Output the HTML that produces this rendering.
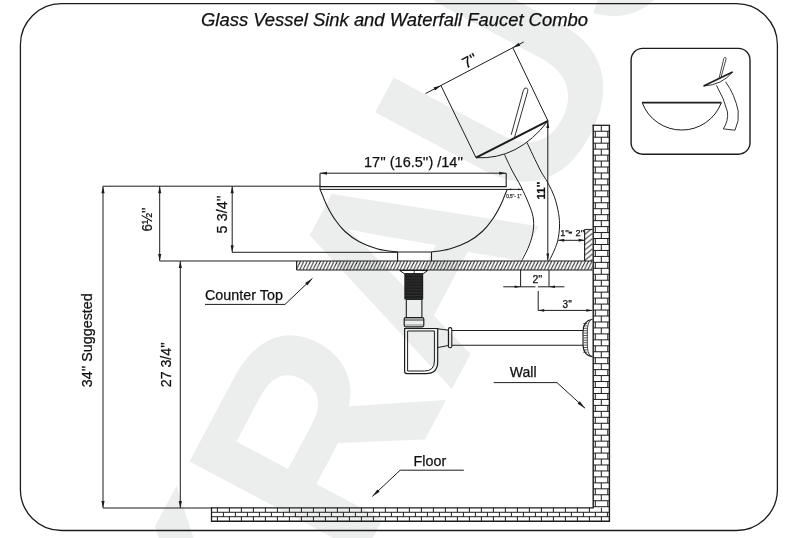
<!DOCTYPE html>
<html><head><meta charset="utf-8"><title>Glass Vessel Sink and Waterfall Faucet Combo</title>
<style>
html,body{margin:0;padding:0;background:#fff;}
body{width:800px;height:538px;overflow:hidden;}
svg{display:block;font-family:"Liberation Sans",sans-serif;will-change:transform;}
</style></head><body>
<svg width="800" height="538" viewBox="0 0 800 538">
<rect x="0" y="0" width="800" height="538" fill="#ffffff"/>
<text x="0" y="0" transform="translate(262.2 745.8) rotate(-62) scale(1 1.045)" font-size="275" font-weight="bold" fill="#eceeed" font-family="Liberation Sans, sans-serif">KRAUS</text>

<rect x="20.4" y="3.7" width="757" height="526.8" rx="41" ry="41" fill="none" stroke="#1c1c1c" stroke-width="1.3"/>
<rect x="631.1" y="48.4" width="118.9" height="105.8" rx="11.5" ry="11.5" fill="none" stroke="#1c1c1c" stroke-width="1.4"/>
<text x="201.00" y="25.50" font-size="18.4" text-anchor="start" font-weight="normal" font-style="italic" fill="#111" stroke="#111" stroke-width="0.25" textLength="387" lengthAdjust="spacingAndGlyphs">Glass Vessel Sink and Waterfall Faucet Combo</text>
<defs>
<pattern id="hatch" patternUnits="userSpaceOnUse" width="3.35" height="9.5" x="296.6" y="261">
<line x1="-0.6" y1="9.5" x2="3.95" y2="0" stroke="#1c1c1c" stroke-width="0.9"/>
<line x1="-3.95" y1="9.5" x2="0.6" y2="0" stroke="#1c1c1c" stroke-width="0.9"/>
<line x1="2.75" y1="9.5" x2="7.3" y2="0" stroke="#1c1c1c" stroke-width="0.9"/>
</pattern>
<pattern id="hatch2" patternUnits="userSpaceOnUse" width="8" height="5.2" x="584.5" y="229.4">
<line x1="0" y1="5.2" x2="8" y2="-1.3" stroke="#1c1c1c" stroke-width="0.9"/>
<line x1="0" y1="10.4" x2="8" y2="3.9" stroke="#1c1c1c" stroke-width="0.9"/>
<line x1="0" y1="0" x2="8" y2="-6.5" stroke="#1c1c1c" stroke-width="0.9"/>
</pattern>
</defs>
<rect x="296.6" y="261.0" width="296.00" height="9.0" fill="url(#hatch)" stroke="none"/>
<line x1="159.70" y1="261.00" x2="592.60" y2="261.00" stroke="#1c1c1c" stroke-width="1.1" />
<line x1="296.60" y1="270.00" x2="592.60" y2="270.00" stroke="#1c1c1c" stroke-width="1.2" />
<line x1="296.60" y1="261.00" x2="296.60" y2="270.00" stroke="#1c1c1c" stroke-width="1.1" />
<rect x="584.6" y="229.4" width="8" height="31.60" fill="url(#hatch2)" stroke="none"/>
<line x1="584.60" y1="229.40" x2="592.60" y2="229.40" stroke="#1c1c1c" stroke-width="1.0" />
<line x1="584.60" y1="229.40" x2="584.60" y2="261.00" stroke="#1c1c1c" stroke-width="1.1" />
<rect x="593.2" y="125.3" width="16.20" height="395.90" fill="none" stroke="none"/>
<line x1="593.20" y1="125.30" x2="593.20" y2="507.80" stroke="#1c1c1c" stroke-width="1.4" />
<line x1="609.40" y1="125.30" x2="609.40" y2="521.20" stroke="#1c1c1c" stroke-width="1.4" />
<line x1="592.50" y1="125.30" x2="610.10" y2="125.30" stroke="#1c1c1c" stroke-width="1.3" />
<line x1="593.20" y1="131.26" x2="609.40" y2="131.26" stroke="#1c1c1c" stroke-width="1.0" />
<line x1="601.30" y1="125.30" x2="601.30" y2="131.26" stroke="#1c1c1c" stroke-width="1.0" />
<line x1="593.20" y1="137.22" x2="609.40" y2="137.22" stroke="#1c1c1c" stroke-width="1.0" />
<line x1="595.30" y1="131.26" x2="595.30" y2="137.22" stroke="#1c1c1c" stroke-width="1.0" />
<line x1="607.80" y1="131.26" x2="607.80" y2="137.22" stroke="#1c1c1c" stroke-width="1.0" />
<line x1="593.20" y1="143.18" x2="609.40" y2="143.18" stroke="#1c1c1c" stroke-width="1.0" />
<line x1="601.30" y1="137.22" x2="601.30" y2="143.18" stroke="#1c1c1c" stroke-width="1.0" />
<line x1="593.20" y1="149.14" x2="609.40" y2="149.14" stroke="#1c1c1c" stroke-width="1.0" />
<line x1="595.30" y1="143.18" x2="595.30" y2="149.14" stroke="#1c1c1c" stroke-width="1.0" />
<line x1="607.80" y1="143.18" x2="607.80" y2="149.14" stroke="#1c1c1c" stroke-width="1.0" />
<line x1="593.20" y1="155.10" x2="609.40" y2="155.10" stroke="#1c1c1c" stroke-width="1.0" />
<line x1="601.30" y1="149.14" x2="601.30" y2="155.10" stroke="#1c1c1c" stroke-width="1.0" />
<line x1="593.20" y1="161.06" x2="609.40" y2="161.06" stroke="#1c1c1c" stroke-width="1.0" />
<line x1="595.30" y1="155.10" x2="595.30" y2="161.06" stroke="#1c1c1c" stroke-width="1.0" />
<line x1="607.80" y1="155.10" x2="607.80" y2="161.06" stroke="#1c1c1c" stroke-width="1.0" />
<line x1="593.20" y1="167.02" x2="609.40" y2="167.02" stroke="#1c1c1c" stroke-width="1.0" />
<line x1="601.30" y1="161.06" x2="601.30" y2="167.02" stroke="#1c1c1c" stroke-width="1.0" />
<line x1="593.20" y1="172.97" x2="609.40" y2="172.97" stroke="#1c1c1c" stroke-width="1.0" />
<line x1="595.30" y1="167.02" x2="595.30" y2="172.97" stroke="#1c1c1c" stroke-width="1.0" />
<line x1="607.80" y1="167.02" x2="607.80" y2="172.97" stroke="#1c1c1c" stroke-width="1.0" />
<line x1="593.20" y1="178.93" x2="609.40" y2="178.93" stroke="#1c1c1c" stroke-width="1.0" />
<line x1="601.30" y1="172.97" x2="601.30" y2="178.93" stroke="#1c1c1c" stroke-width="1.0" />
<line x1="593.20" y1="184.89" x2="609.40" y2="184.89" stroke="#1c1c1c" stroke-width="1.0" />
<line x1="595.30" y1="178.93" x2="595.30" y2="184.89" stroke="#1c1c1c" stroke-width="1.0" />
<line x1="607.80" y1="178.93" x2="607.80" y2="184.89" stroke="#1c1c1c" stroke-width="1.0" />
<line x1="593.20" y1="190.85" x2="609.40" y2="190.85" stroke="#1c1c1c" stroke-width="1.0" />
<line x1="601.30" y1="184.89" x2="601.30" y2="190.85" stroke="#1c1c1c" stroke-width="1.0" />
<line x1="593.20" y1="196.81" x2="609.40" y2="196.81" stroke="#1c1c1c" stroke-width="1.0" />
<line x1="595.30" y1="190.85" x2="595.30" y2="196.81" stroke="#1c1c1c" stroke-width="1.0" />
<line x1="607.80" y1="190.85" x2="607.80" y2="196.81" stroke="#1c1c1c" stroke-width="1.0" />
<line x1="593.20" y1="202.77" x2="609.40" y2="202.77" stroke="#1c1c1c" stroke-width="1.0" />
<line x1="601.30" y1="196.81" x2="601.30" y2="202.77" stroke="#1c1c1c" stroke-width="1.0" />
<line x1="593.20" y1="208.73" x2="609.40" y2="208.73" stroke="#1c1c1c" stroke-width="1.0" />
<line x1="595.30" y1="202.77" x2="595.30" y2="208.73" stroke="#1c1c1c" stroke-width="1.0" />
<line x1="607.80" y1="202.77" x2="607.80" y2="208.73" stroke="#1c1c1c" stroke-width="1.0" />
<line x1="593.20" y1="214.69" x2="609.40" y2="214.69" stroke="#1c1c1c" stroke-width="1.0" />
<line x1="601.30" y1="208.73" x2="601.30" y2="214.69" stroke="#1c1c1c" stroke-width="1.0" />
<line x1="593.20" y1="220.65" x2="609.40" y2="220.65" stroke="#1c1c1c" stroke-width="1.0" />
<line x1="595.30" y1="214.69" x2="595.30" y2="220.65" stroke="#1c1c1c" stroke-width="1.0" />
<line x1="607.80" y1="214.69" x2="607.80" y2="220.65" stroke="#1c1c1c" stroke-width="1.0" />
<line x1="593.20" y1="226.61" x2="609.40" y2="226.61" stroke="#1c1c1c" stroke-width="1.0" />
<line x1="601.30" y1="220.65" x2="601.30" y2="226.61" stroke="#1c1c1c" stroke-width="1.0" />
<line x1="593.20" y1="232.57" x2="609.40" y2="232.57" stroke="#1c1c1c" stroke-width="1.0" />
<line x1="595.30" y1="226.61" x2="595.30" y2="232.57" stroke="#1c1c1c" stroke-width="1.0" />
<line x1="607.80" y1="226.61" x2="607.80" y2="232.57" stroke="#1c1c1c" stroke-width="1.0" />
<line x1="593.20" y1="238.53" x2="609.40" y2="238.53" stroke="#1c1c1c" stroke-width="1.0" />
<line x1="601.30" y1="232.57" x2="601.30" y2="238.53" stroke="#1c1c1c" stroke-width="1.0" />
<line x1="593.20" y1="244.49" x2="609.40" y2="244.49" stroke="#1c1c1c" stroke-width="1.0" />
<line x1="595.30" y1="238.53" x2="595.30" y2="244.49" stroke="#1c1c1c" stroke-width="1.0" />
<line x1="607.80" y1="238.53" x2="607.80" y2="244.49" stroke="#1c1c1c" stroke-width="1.0" />
<line x1="593.20" y1="250.45" x2="609.40" y2="250.45" stroke="#1c1c1c" stroke-width="1.0" />
<line x1="601.30" y1="244.49" x2="601.30" y2="250.45" stroke="#1c1c1c" stroke-width="1.0" />
<line x1="593.20" y1="256.41" x2="609.40" y2="256.41" stroke="#1c1c1c" stroke-width="1.0" />
<line x1="595.30" y1="250.45" x2="595.30" y2="256.41" stroke="#1c1c1c" stroke-width="1.0" />
<line x1="607.80" y1="250.45" x2="607.80" y2="256.41" stroke="#1c1c1c" stroke-width="1.0" />
<line x1="593.20" y1="262.37" x2="609.40" y2="262.37" stroke="#1c1c1c" stroke-width="1.0" />
<line x1="601.30" y1="256.41" x2="601.30" y2="262.37" stroke="#1c1c1c" stroke-width="1.0" />
<line x1="593.20" y1="268.32" x2="609.40" y2="268.32" stroke="#1c1c1c" stroke-width="1.0" />
<line x1="595.30" y1="262.37" x2="595.30" y2="268.32" stroke="#1c1c1c" stroke-width="1.0" />
<line x1="607.80" y1="262.37" x2="607.80" y2="268.32" stroke="#1c1c1c" stroke-width="1.0" />
<line x1="593.20" y1="274.28" x2="609.40" y2="274.28" stroke="#1c1c1c" stroke-width="1.0" />
<line x1="601.30" y1="268.32" x2="601.30" y2="274.28" stroke="#1c1c1c" stroke-width="1.0" />
<line x1="593.20" y1="280.24" x2="609.40" y2="280.24" stroke="#1c1c1c" stroke-width="1.0" />
<line x1="595.30" y1="274.28" x2="595.30" y2="280.24" stroke="#1c1c1c" stroke-width="1.0" />
<line x1="607.80" y1="274.28" x2="607.80" y2="280.24" stroke="#1c1c1c" stroke-width="1.0" />
<line x1="593.20" y1="286.20" x2="609.40" y2="286.20" stroke="#1c1c1c" stroke-width="1.0" />
<line x1="601.30" y1="280.24" x2="601.30" y2="286.20" stroke="#1c1c1c" stroke-width="1.0" />
<line x1="593.20" y1="292.16" x2="609.40" y2="292.16" stroke="#1c1c1c" stroke-width="1.0" />
<line x1="595.30" y1="286.20" x2="595.30" y2="292.16" stroke="#1c1c1c" stroke-width="1.0" />
<line x1="607.80" y1="286.20" x2="607.80" y2="292.16" stroke="#1c1c1c" stroke-width="1.0" />
<line x1="593.20" y1="298.12" x2="609.40" y2="298.12" stroke="#1c1c1c" stroke-width="1.0" />
<line x1="601.30" y1="292.16" x2="601.30" y2="298.12" stroke="#1c1c1c" stroke-width="1.0" />
<line x1="593.20" y1="304.08" x2="609.40" y2="304.08" stroke="#1c1c1c" stroke-width="1.0" />
<line x1="595.30" y1="298.12" x2="595.30" y2="304.08" stroke="#1c1c1c" stroke-width="1.0" />
<line x1="607.80" y1="298.12" x2="607.80" y2="304.08" stroke="#1c1c1c" stroke-width="1.0" />
<line x1="593.20" y1="310.04" x2="609.40" y2="310.04" stroke="#1c1c1c" stroke-width="1.0" />
<line x1="601.30" y1="304.08" x2="601.30" y2="310.04" stroke="#1c1c1c" stroke-width="1.0" />
<line x1="593.20" y1="316.00" x2="609.40" y2="316.00" stroke="#1c1c1c" stroke-width="1.0" />
<line x1="595.30" y1="310.04" x2="595.30" y2="316.00" stroke="#1c1c1c" stroke-width="1.0" />
<line x1="607.80" y1="310.04" x2="607.80" y2="316.00" stroke="#1c1c1c" stroke-width="1.0" />
<line x1="593.20" y1="321.96" x2="609.40" y2="321.96" stroke="#1c1c1c" stroke-width="1.0" />
<line x1="601.30" y1="316.00" x2="601.30" y2="321.96" stroke="#1c1c1c" stroke-width="1.0" />
<line x1="593.20" y1="327.92" x2="609.40" y2="327.92" stroke="#1c1c1c" stroke-width="1.0" />
<line x1="595.30" y1="321.96" x2="595.30" y2="327.92" stroke="#1c1c1c" stroke-width="1.0" />
<line x1="607.80" y1="321.96" x2="607.80" y2="327.92" stroke="#1c1c1c" stroke-width="1.0" />
<line x1="593.20" y1="333.88" x2="609.40" y2="333.88" stroke="#1c1c1c" stroke-width="1.0" />
<line x1="601.30" y1="327.92" x2="601.30" y2="333.88" stroke="#1c1c1c" stroke-width="1.0" />
<line x1="593.20" y1="339.84" x2="609.40" y2="339.84" stroke="#1c1c1c" stroke-width="1.0" />
<line x1="595.30" y1="333.88" x2="595.30" y2="339.84" stroke="#1c1c1c" stroke-width="1.0" />
<line x1="607.80" y1="333.88" x2="607.80" y2="339.84" stroke="#1c1c1c" stroke-width="1.0" />
<line x1="593.20" y1="345.80" x2="609.40" y2="345.80" stroke="#1c1c1c" stroke-width="1.0" />
<line x1="601.30" y1="339.84" x2="601.30" y2="345.80" stroke="#1c1c1c" stroke-width="1.0" />
<line x1="593.20" y1="351.76" x2="609.40" y2="351.76" stroke="#1c1c1c" stroke-width="1.0" />
<line x1="595.30" y1="345.80" x2="595.30" y2="351.76" stroke="#1c1c1c" stroke-width="1.0" />
<line x1="607.80" y1="345.80" x2="607.80" y2="351.76" stroke="#1c1c1c" stroke-width="1.0" />
<line x1="593.20" y1="357.72" x2="609.40" y2="357.72" stroke="#1c1c1c" stroke-width="1.0" />
<line x1="601.30" y1="351.76" x2="601.30" y2="357.72" stroke="#1c1c1c" stroke-width="1.0" />
<line x1="593.20" y1="363.68" x2="609.40" y2="363.68" stroke="#1c1c1c" stroke-width="1.0" />
<line x1="595.30" y1="357.72" x2="595.30" y2="363.68" stroke="#1c1c1c" stroke-width="1.0" />
<line x1="607.80" y1="357.72" x2="607.80" y2="363.68" stroke="#1c1c1c" stroke-width="1.0" />
<line x1="593.20" y1="369.63" x2="609.40" y2="369.63" stroke="#1c1c1c" stroke-width="1.0" />
<line x1="601.30" y1="363.68" x2="601.30" y2="369.63" stroke="#1c1c1c" stroke-width="1.0" />
<line x1="593.20" y1="375.59" x2="609.40" y2="375.59" stroke="#1c1c1c" stroke-width="1.0" />
<line x1="595.30" y1="369.63" x2="595.30" y2="375.59" stroke="#1c1c1c" stroke-width="1.0" />
<line x1="607.80" y1="369.63" x2="607.80" y2="375.59" stroke="#1c1c1c" stroke-width="1.0" />
<line x1="593.20" y1="381.55" x2="609.40" y2="381.55" stroke="#1c1c1c" stroke-width="1.0" />
<line x1="601.30" y1="375.59" x2="601.30" y2="381.55" stroke="#1c1c1c" stroke-width="1.0" />
<line x1="593.20" y1="387.51" x2="609.40" y2="387.51" stroke="#1c1c1c" stroke-width="1.0" />
<line x1="595.30" y1="381.55" x2="595.30" y2="387.51" stroke="#1c1c1c" stroke-width="1.0" />
<line x1="607.80" y1="381.55" x2="607.80" y2="387.51" stroke="#1c1c1c" stroke-width="1.0" />
<line x1="593.20" y1="393.47" x2="609.40" y2="393.47" stroke="#1c1c1c" stroke-width="1.0" />
<line x1="601.30" y1="387.51" x2="601.30" y2="393.47" stroke="#1c1c1c" stroke-width="1.0" />
<line x1="593.20" y1="399.43" x2="609.40" y2="399.43" stroke="#1c1c1c" stroke-width="1.0" />
<line x1="595.30" y1="393.47" x2="595.30" y2="399.43" stroke="#1c1c1c" stroke-width="1.0" />
<line x1="607.80" y1="393.47" x2="607.80" y2="399.43" stroke="#1c1c1c" stroke-width="1.0" />
<line x1="593.20" y1="405.39" x2="609.40" y2="405.39" stroke="#1c1c1c" stroke-width="1.0" />
<line x1="601.30" y1="399.43" x2="601.30" y2="405.39" stroke="#1c1c1c" stroke-width="1.0" />
<line x1="593.20" y1="411.35" x2="609.40" y2="411.35" stroke="#1c1c1c" stroke-width="1.0" />
<line x1="595.30" y1="405.39" x2="595.30" y2="411.35" stroke="#1c1c1c" stroke-width="1.0" />
<line x1="607.80" y1="405.39" x2="607.80" y2="411.35" stroke="#1c1c1c" stroke-width="1.0" />
<line x1="593.20" y1="417.31" x2="609.40" y2="417.31" stroke="#1c1c1c" stroke-width="1.0" />
<line x1="601.30" y1="411.35" x2="601.30" y2="417.31" stroke="#1c1c1c" stroke-width="1.0" />
<line x1="593.20" y1="423.27" x2="609.40" y2="423.27" stroke="#1c1c1c" stroke-width="1.0" />
<line x1="595.30" y1="417.31" x2="595.30" y2="423.27" stroke="#1c1c1c" stroke-width="1.0" />
<line x1="607.80" y1="417.31" x2="607.80" y2="423.27" stroke="#1c1c1c" stroke-width="1.0" />
<line x1="593.20" y1="429.23" x2="609.40" y2="429.23" stroke="#1c1c1c" stroke-width="1.0" />
<line x1="601.30" y1="423.27" x2="601.30" y2="429.23" stroke="#1c1c1c" stroke-width="1.0" />
<line x1="593.20" y1="435.19" x2="609.40" y2="435.19" stroke="#1c1c1c" stroke-width="1.0" />
<line x1="595.30" y1="429.23" x2="595.30" y2="435.19" stroke="#1c1c1c" stroke-width="1.0" />
<line x1="607.80" y1="429.23" x2="607.80" y2="435.19" stroke="#1c1c1c" stroke-width="1.0" />
<line x1="593.20" y1="441.15" x2="609.40" y2="441.15" stroke="#1c1c1c" stroke-width="1.0" />
<line x1="601.30" y1="435.19" x2="601.30" y2="441.15" stroke="#1c1c1c" stroke-width="1.0" />
<line x1="593.20" y1="447.11" x2="609.40" y2="447.11" stroke="#1c1c1c" stroke-width="1.0" />
<line x1="595.30" y1="441.15" x2="595.30" y2="447.11" stroke="#1c1c1c" stroke-width="1.0" />
<line x1="607.80" y1="441.15" x2="607.80" y2="447.11" stroke="#1c1c1c" stroke-width="1.0" />
<line x1="593.20" y1="453.07" x2="609.40" y2="453.07" stroke="#1c1c1c" stroke-width="1.0" />
<line x1="601.30" y1="447.11" x2="601.30" y2="453.07" stroke="#1c1c1c" stroke-width="1.0" />
<line x1="593.20" y1="459.03" x2="609.40" y2="459.03" stroke="#1c1c1c" stroke-width="1.0" />
<line x1="595.30" y1="453.07" x2="595.30" y2="459.03" stroke="#1c1c1c" stroke-width="1.0" />
<line x1="607.80" y1="453.07" x2="607.80" y2="459.03" stroke="#1c1c1c" stroke-width="1.0" />
<line x1="593.20" y1="464.98" x2="609.40" y2="464.98" stroke="#1c1c1c" stroke-width="1.0" />
<line x1="601.30" y1="459.03" x2="601.30" y2="464.98" stroke="#1c1c1c" stroke-width="1.0" />
<line x1="593.20" y1="470.94" x2="609.40" y2="470.94" stroke="#1c1c1c" stroke-width="1.0" />
<line x1="595.30" y1="464.98" x2="595.30" y2="470.94" stroke="#1c1c1c" stroke-width="1.0" />
<line x1="607.80" y1="464.98" x2="607.80" y2="470.94" stroke="#1c1c1c" stroke-width="1.0" />
<line x1="593.20" y1="476.90" x2="609.40" y2="476.90" stroke="#1c1c1c" stroke-width="1.0" />
<line x1="601.30" y1="470.94" x2="601.30" y2="476.90" stroke="#1c1c1c" stroke-width="1.0" />
<line x1="593.20" y1="482.86" x2="609.40" y2="482.86" stroke="#1c1c1c" stroke-width="1.0" />
<line x1="595.30" y1="476.90" x2="595.30" y2="482.86" stroke="#1c1c1c" stroke-width="1.0" />
<line x1="607.80" y1="476.90" x2="607.80" y2="482.86" stroke="#1c1c1c" stroke-width="1.0" />
<line x1="593.20" y1="488.82" x2="609.40" y2="488.82" stroke="#1c1c1c" stroke-width="1.0" />
<line x1="601.30" y1="482.86" x2="601.30" y2="488.82" stroke="#1c1c1c" stroke-width="1.0" />
<line x1="593.20" y1="494.78" x2="609.40" y2="494.78" stroke="#1c1c1c" stroke-width="1.0" />
<line x1="595.30" y1="488.82" x2="595.30" y2="494.78" stroke="#1c1c1c" stroke-width="1.0" />
<line x1="607.80" y1="488.82" x2="607.80" y2="494.78" stroke="#1c1c1c" stroke-width="1.0" />
<line x1="593.20" y1="500.74" x2="609.40" y2="500.74" stroke="#1c1c1c" stroke-width="1.0" />
<line x1="601.30" y1="494.78" x2="601.30" y2="500.74" stroke="#1c1c1c" stroke-width="1.0" />
<line x1="593.20" y1="506.70" x2="609.40" y2="506.70" stroke="#1c1c1c" stroke-width="1.0" />
<line x1="595.30" y1="500.74" x2="595.30" y2="506.70" stroke="#1c1c1c" stroke-width="1.0" />
<line x1="607.80" y1="500.74" x2="607.80" y2="506.70" stroke="#1c1c1c" stroke-width="1.0" />
<rect x="211.5" y="507.8" width="381.70" height="13.40" fill="none" stroke="none"/>
<line x1="211.50" y1="507.80" x2="593.90" y2="507.80" stroke="#1c1c1c" stroke-width="1.3" />
<line x1="211.50" y1="521.20" x2="610.10" y2="521.20" stroke="#1c1c1c" stroke-width="1.4" />
<line x1="211.50" y1="507.20" x2="211.50" y2="521.90" stroke="#1c1c1c" stroke-width="1.3" />
<line x1="211.50" y1="512.27" x2="609.40" y2="512.27" stroke="#1c1c1c" stroke-width="1.0" />
<line x1="211.50" y1="516.73" x2="609.40" y2="516.73" stroke="#1c1c1c" stroke-width="1.0" />
<line x1="601.40" y1="507.80" x2="601.40" y2="512.27" stroke="#1c1c1c" stroke-width="1.0" />
<line x1="601.40" y1="516.73" x2="601.40" y2="521.20" stroke="#1c1c1c" stroke-width="1.0" />
<line x1="589.40" y1="507.80" x2="589.40" y2="512.27" stroke="#1c1c1c" stroke-width="1.0" />
<line x1="589.40" y1="516.73" x2="589.40" y2="521.20" stroke="#1c1c1c" stroke-width="1.0" />
<line x1="577.40" y1="507.80" x2="577.40" y2="512.27" stroke="#1c1c1c" stroke-width="1.0" />
<line x1="577.40" y1="516.73" x2="577.40" y2="521.20" stroke="#1c1c1c" stroke-width="1.0" />
<line x1="565.40" y1="507.80" x2="565.40" y2="512.27" stroke="#1c1c1c" stroke-width="1.0" />
<line x1="565.40" y1="516.73" x2="565.40" y2="521.20" stroke="#1c1c1c" stroke-width="1.0" />
<line x1="553.40" y1="507.80" x2="553.40" y2="512.27" stroke="#1c1c1c" stroke-width="1.0" />
<line x1="553.40" y1="516.73" x2="553.40" y2="521.20" stroke="#1c1c1c" stroke-width="1.0" />
<line x1="541.40" y1="507.80" x2="541.40" y2="512.27" stroke="#1c1c1c" stroke-width="1.0" />
<line x1="541.40" y1="516.73" x2="541.40" y2="521.20" stroke="#1c1c1c" stroke-width="1.0" />
<line x1="529.40" y1="507.80" x2="529.40" y2="512.27" stroke="#1c1c1c" stroke-width="1.0" />
<line x1="529.40" y1="516.73" x2="529.40" y2="521.20" stroke="#1c1c1c" stroke-width="1.0" />
<line x1="517.40" y1="507.80" x2="517.40" y2="512.27" stroke="#1c1c1c" stroke-width="1.0" />
<line x1="517.40" y1="516.73" x2="517.40" y2="521.20" stroke="#1c1c1c" stroke-width="1.0" />
<line x1="505.40" y1="507.80" x2="505.40" y2="512.27" stroke="#1c1c1c" stroke-width="1.0" />
<line x1="505.40" y1="516.73" x2="505.40" y2="521.20" stroke="#1c1c1c" stroke-width="1.0" />
<line x1="493.40" y1="507.80" x2="493.40" y2="512.27" stroke="#1c1c1c" stroke-width="1.0" />
<line x1="493.40" y1="516.73" x2="493.40" y2="521.20" stroke="#1c1c1c" stroke-width="1.0" />
<line x1="481.40" y1="507.80" x2="481.40" y2="512.27" stroke="#1c1c1c" stroke-width="1.0" />
<line x1="481.40" y1="516.73" x2="481.40" y2="521.20" stroke="#1c1c1c" stroke-width="1.0" />
<line x1="469.40" y1="507.80" x2="469.40" y2="512.27" stroke="#1c1c1c" stroke-width="1.0" />
<line x1="469.40" y1="516.73" x2="469.40" y2="521.20" stroke="#1c1c1c" stroke-width="1.0" />
<line x1="457.40" y1="507.80" x2="457.40" y2="512.27" stroke="#1c1c1c" stroke-width="1.0" />
<line x1="457.40" y1="516.73" x2="457.40" y2="521.20" stroke="#1c1c1c" stroke-width="1.0" />
<line x1="445.40" y1="507.80" x2="445.40" y2="512.27" stroke="#1c1c1c" stroke-width="1.0" />
<line x1="445.40" y1="516.73" x2="445.40" y2="521.20" stroke="#1c1c1c" stroke-width="1.0" />
<line x1="433.40" y1="507.80" x2="433.40" y2="512.27" stroke="#1c1c1c" stroke-width="1.0" />
<line x1="433.40" y1="516.73" x2="433.40" y2="521.20" stroke="#1c1c1c" stroke-width="1.0" />
<line x1="421.40" y1="507.80" x2="421.40" y2="512.27" stroke="#1c1c1c" stroke-width="1.0" />
<line x1="421.40" y1="516.73" x2="421.40" y2="521.20" stroke="#1c1c1c" stroke-width="1.0" />
<line x1="409.40" y1="507.80" x2="409.40" y2="512.27" stroke="#1c1c1c" stroke-width="1.0" />
<line x1="409.40" y1="516.73" x2="409.40" y2="521.20" stroke="#1c1c1c" stroke-width="1.0" />
<line x1="397.40" y1="507.80" x2="397.40" y2="512.27" stroke="#1c1c1c" stroke-width="1.0" />
<line x1="397.40" y1="516.73" x2="397.40" y2="521.20" stroke="#1c1c1c" stroke-width="1.0" />
<line x1="385.40" y1="507.80" x2="385.40" y2="512.27" stroke="#1c1c1c" stroke-width="1.0" />
<line x1="385.40" y1="516.73" x2="385.40" y2="521.20" stroke="#1c1c1c" stroke-width="1.0" />
<line x1="373.40" y1="507.80" x2="373.40" y2="512.27" stroke="#1c1c1c" stroke-width="1.0" />
<line x1="373.40" y1="516.73" x2="373.40" y2="521.20" stroke="#1c1c1c" stroke-width="1.0" />
<line x1="361.40" y1="507.80" x2="361.40" y2="512.27" stroke="#1c1c1c" stroke-width="1.0" />
<line x1="361.40" y1="516.73" x2="361.40" y2="521.20" stroke="#1c1c1c" stroke-width="1.0" />
<line x1="349.40" y1="507.80" x2="349.40" y2="512.27" stroke="#1c1c1c" stroke-width="1.0" />
<line x1="349.40" y1="516.73" x2="349.40" y2="521.20" stroke="#1c1c1c" stroke-width="1.0" />
<line x1="337.40" y1="507.80" x2="337.40" y2="512.27" stroke="#1c1c1c" stroke-width="1.0" />
<line x1="337.40" y1="516.73" x2="337.40" y2="521.20" stroke="#1c1c1c" stroke-width="1.0" />
<line x1="325.40" y1="507.80" x2="325.40" y2="512.27" stroke="#1c1c1c" stroke-width="1.0" />
<line x1="325.40" y1="516.73" x2="325.40" y2="521.20" stroke="#1c1c1c" stroke-width="1.0" />
<line x1="313.40" y1="507.80" x2="313.40" y2="512.27" stroke="#1c1c1c" stroke-width="1.0" />
<line x1="313.40" y1="516.73" x2="313.40" y2="521.20" stroke="#1c1c1c" stroke-width="1.0" />
<line x1="301.40" y1="507.80" x2="301.40" y2="512.27" stroke="#1c1c1c" stroke-width="1.0" />
<line x1="301.40" y1="516.73" x2="301.40" y2="521.20" stroke="#1c1c1c" stroke-width="1.0" />
<line x1="289.40" y1="507.80" x2="289.40" y2="512.27" stroke="#1c1c1c" stroke-width="1.0" />
<line x1="289.40" y1="516.73" x2="289.40" y2="521.20" stroke="#1c1c1c" stroke-width="1.0" />
<line x1="277.40" y1="507.80" x2="277.40" y2="512.27" stroke="#1c1c1c" stroke-width="1.0" />
<line x1="277.40" y1="516.73" x2="277.40" y2="521.20" stroke="#1c1c1c" stroke-width="1.0" />
<line x1="265.40" y1="507.80" x2="265.40" y2="512.27" stroke="#1c1c1c" stroke-width="1.0" />
<line x1="265.40" y1="516.73" x2="265.40" y2="521.20" stroke="#1c1c1c" stroke-width="1.0" />
<line x1="253.40" y1="507.80" x2="253.40" y2="512.27" stroke="#1c1c1c" stroke-width="1.0" />
<line x1="253.40" y1="516.73" x2="253.40" y2="521.20" stroke="#1c1c1c" stroke-width="1.0" />
<line x1="241.40" y1="507.80" x2="241.40" y2="512.27" stroke="#1c1c1c" stroke-width="1.0" />
<line x1="241.40" y1="516.73" x2="241.40" y2="521.20" stroke="#1c1c1c" stroke-width="1.0" />
<line x1="229.40" y1="507.80" x2="229.40" y2="512.27" stroke="#1c1c1c" stroke-width="1.0" />
<line x1="229.40" y1="516.73" x2="229.40" y2="521.20" stroke="#1c1c1c" stroke-width="1.0" />
<line x1="217.40" y1="507.80" x2="217.40" y2="512.27" stroke="#1c1c1c" stroke-width="1.0" />
<line x1="217.40" y1="516.73" x2="217.40" y2="521.20" stroke="#1c1c1c" stroke-width="1.0" />
<line x1="607.40" y1="512.27" x2="607.40" y2="516.73" stroke="#1c1c1c" stroke-width="1.0" />
<line x1="595.40" y1="512.27" x2="595.40" y2="516.73" stroke="#1c1c1c" stroke-width="1.0" />
<line x1="583.40" y1="512.27" x2="583.40" y2="516.73" stroke="#1c1c1c" stroke-width="1.0" />
<line x1="571.40" y1="512.27" x2="571.40" y2="516.73" stroke="#1c1c1c" stroke-width="1.0" />
<line x1="559.40" y1="512.27" x2="559.40" y2="516.73" stroke="#1c1c1c" stroke-width="1.0" />
<line x1="547.40" y1="512.27" x2="547.40" y2="516.73" stroke="#1c1c1c" stroke-width="1.0" />
<line x1="535.40" y1="512.27" x2="535.40" y2="516.73" stroke="#1c1c1c" stroke-width="1.0" />
<line x1="523.40" y1="512.27" x2="523.40" y2="516.73" stroke="#1c1c1c" stroke-width="1.0" />
<line x1="511.40" y1="512.27" x2="511.40" y2="516.73" stroke="#1c1c1c" stroke-width="1.0" />
<line x1="499.40" y1="512.27" x2="499.40" y2="516.73" stroke="#1c1c1c" stroke-width="1.0" />
<line x1="487.40" y1="512.27" x2="487.40" y2="516.73" stroke="#1c1c1c" stroke-width="1.0" />
<line x1="475.40" y1="512.27" x2="475.40" y2="516.73" stroke="#1c1c1c" stroke-width="1.0" />
<line x1="463.40" y1="512.27" x2="463.40" y2="516.73" stroke="#1c1c1c" stroke-width="1.0" />
<line x1="451.40" y1="512.27" x2="451.40" y2="516.73" stroke="#1c1c1c" stroke-width="1.0" />
<line x1="439.40" y1="512.27" x2="439.40" y2="516.73" stroke="#1c1c1c" stroke-width="1.0" />
<line x1="427.40" y1="512.27" x2="427.40" y2="516.73" stroke="#1c1c1c" stroke-width="1.0" />
<line x1="415.40" y1="512.27" x2="415.40" y2="516.73" stroke="#1c1c1c" stroke-width="1.0" />
<line x1="403.40" y1="512.27" x2="403.40" y2="516.73" stroke="#1c1c1c" stroke-width="1.0" />
<line x1="391.40" y1="512.27" x2="391.40" y2="516.73" stroke="#1c1c1c" stroke-width="1.0" />
<line x1="379.40" y1="512.27" x2="379.40" y2="516.73" stroke="#1c1c1c" stroke-width="1.0" />
<line x1="367.40" y1="512.27" x2="367.40" y2="516.73" stroke="#1c1c1c" stroke-width="1.0" />
<line x1="355.40" y1="512.27" x2="355.40" y2="516.73" stroke="#1c1c1c" stroke-width="1.0" />
<line x1="343.40" y1="512.27" x2="343.40" y2="516.73" stroke="#1c1c1c" stroke-width="1.0" />
<line x1="331.40" y1="512.27" x2="331.40" y2="516.73" stroke="#1c1c1c" stroke-width="1.0" />
<line x1="319.40" y1="512.27" x2="319.40" y2="516.73" stroke="#1c1c1c" stroke-width="1.0" />
<line x1="307.40" y1="512.27" x2="307.40" y2="516.73" stroke="#1c1c1c" stroke-width="1.0" />
<line x1="295.40" y1="512.27" x2="295.40" y2="516.73" stroke="#1c1c1c" stroke-width="1.0" />
<line x1="283.40" y1="512.27" x2="283.40" y2="516.73" stroke="#1c1c1c" stroke-width="1.0" />
<line x1="271.40" y1="512.27" x2="271.40" y2="516.73" stroke="#1c1c1c" stroke-width="1.0" />
<line x1="259.40" y1="512.27" x2="259.40" y2="516.73" stroke="#1c1c1c" stroke-width="1.0" />
<line x1="247.40" y1="512.27" x2="247.40" y2="516.73" stroke="#1c1c1c" stroke-width="1.0" />
<line x1="235.40" y1="512.27" x2="235.40" y2="516.73" stroke="#1c1c1c" stroke-width="1.0" />
<line x1="223.40" y1="512.27" x2="223.40" y2="516.73" stroke="#1c1c1c" stroke-width="1.0" />
<line x1="103.00" y1="186.20" x2="320.00" y2="186.20" stroke="#1c1c1c" stroke-width="1.0" />
<line x1="103.00" y1="186.20" x2="103.00" y2="508.00" stroke="#1c1c1c" stroke-width="1.0" />
<polygon points="103.00,186.20 104.60,193.20 101.40,193.20" fill="#1c1c1c"/>
<polygon points="103.00,508.00 101.40,501.00 104.60,501.00" fill="#1c1c1c"/>
<line x1="103.00" y1="508.00" x2="211.50" y2="508.00" stroke="#1c1c1c" stroke-width="1.1" />
<line x1="159.70" y1="186.20" x2="159.70" y2="261.00" stroke="#1c1c1c" stroke-width="1.0" />
<polygon points="159.70,186.20 161.30,193.20 158.10,193.20" fill="#1c1c1c"/>
<polygon points="159.70,261.00 158.10,254.00 161.30,254.00" fill="#1c1c1c"/>
<line x1="232.20" y1="186.20" x2="232.20" y2="252.30" stroke="#1c1c1c" stroke-width="1.0" />
<polygon points="232.20,186.20 233.80,193.20 230.60,193.20" fill="#1c1c1c"/>
<polygon points="232.20,252.30 230.60,245.30 233.80,245.30" fill="#1c1c1c"/>
<line x1="232.20" y1="252.30" x2="397.60" y2="252.30" stroke="#1c1c1c" stroke-width="1.0" />
<line x1="180.30" y1="261.00" x2="180.30" y2="508.00" stroke="#1c1c1c" stroke-width="1.0" />
<polygon points="180.30,261.00 181.90,268.00 178.70,268.00" fill="#1c1c1c"/>
<polygon points="180.30,508.00 178.70,501.00 181.90,501.00" fill="#1c1c1c"/>
<text x="152.40" y="231.40" font-size="14.2" text-anchor="start" font-weight="normal" font-style="normal" fill="#111" stroke="#111" stroke-width="0.25" transform="rotate(-90 152.40 231.40)" textLength="23.6" lengthAdjust="spacingAndGlyphs">6½''</text>
<text x="227.40" y="233.40" font-size="14.3" text-anchor="start" font-weight="normal" font-style="normal" fill="#111" stroke="#111" stroke-width="0.25" transform="rotate(-90 227.40 233.40)" textLength="37.8" lengthAdjust="spacing">5 3/4''</text>
<text x="91.80" y="387.20" font-size="14.3" text-anchor="start" font-weight="normal" font-style="normal" fill="#111" stroke="#111" stroke-width="0.25" transform="rotate(-90 91.80 387.20)" textLength="94" lengthAdjust="spacing">34'' Suggested</text>
<text x="171.50" y="387.20" font-size="14.2" text-anchor="start" font-weight="normal" font-style="normal" fill="#111" stroke="#111" stroke-width="0.25" transform="rotate(-90 171.50 387.20)" textLength="44.8" lengthAdjust="spacing">27 3/4''</text>
<text x="205.00" y="300.00" font-size="14.3" text-anchor="start" font-weight="normal" font-style="normal" fill="#111" stroke="#111" stroke-width="0.25" textLength="78" lengthAdjust="spacing">Counter Top</text>
<polyline points="205,304.4 285,304.4 312.4,278.4" fill="none" stroke="#1c1c1c" stroke-width="1.0"/>
<polygon points="312.40,278.40 307.37,285.45 305.10,283.05" fill="#1c1c1c"/>
<text x="509.80" y="377.30" font-size="14" text-anchor="start" font-weight="normal" font-style="normal" fill="#111" stroke="#111" stroke-width="0.25" >Wall</text>
<polyline points="493.7,382.6 557,382.6 585,408.2" fill="none" stroke="#1c1c1c" stroke-width="1.0"/>
<polygon points="585.00,408.20 577.61,403.68 579.84,401.25" fill="#1c1c1c"/>
<text x="413.60" y="466.00" font-size="14.3" text-anchor="start" font-weight="normal" font-style="normal" fill="#111" stroke="#111" stroke-width="0.25" >Floor</text>
<polyline points="463.8,470.2 400.2,470.2 372.3,496.4" fill="none" stroke="#1c1c1c" stroke-width="1.0"/>
<polygon points="372.30,496.40 377.37,489.38 379.63,491.78" fill="#1c1c1c"/>
<line x1="320.00" y1="173.20" x2="506.20" y2="173.20" stroke="#1c1c1c" stroke-width="1.0" />
<polygon points="320.00,173.20 327.00,171.70 327.00,174.70" fill="#1c1c1c"/>
<polygon points="506.20,173.20 499.20,174.70 499.20,171.70" fill="#1c1c1c"/>
<line x1="320.00" y1="173.20" x2="320.00" y2="189.60" stroke="#1c1c1c" stroke-width="1.1" />
<line x1="506.20" y1="173.20" x2="506.20" y2="186.60" stroke="#1c1c1c" stroke-width="1.1" />
<line x1="320.00" y1="186.60" x2="506.60" y2="186.60" stroke="#1c1c1c" stroke-width="1.1" />
<line x1="320.00" y1="189.40" x2="521.80" y2="189.40" stroke="#1c1c1c" stroke-width="1.0" />
<text x="364.00" y="167.30" font-size="14.5" text-anchor="start" font-weight="normal" font-style="normal" fill="#111" stroke="#111" stroke-width="0.25" textLength="99" lengthAdjust="spacing">17'' (16.5'') /14''</text>
<path d="M320.00,189.60 C320.25,190.12 320.40,190.13 321.50,192.70 C322.60,195.27 324.38,200.57 326.60,205.00 C328.82,209.43 331.73,214.88 334.80,219.30 C337.87,223.72 340.92,227.75 345.00,231.50 C349.08,235.25 353.85,238.88 359.30,241.80 C364.75,244.72 371.32,247.30 377.70,249.00 C384.08,250.70 394.28,251.50 397.60,252.00" fill="none" stroke="#1c1c1c" stroke-width="1.1" />
<path d="M507.30,189.60 C507.05,190.12 506.90,190.13 505.80,192.70 C504.70,195.27 502.92,200.57 500.70,205.00 C498.48,209.43 495.57,214.88 492.50,219.30 C489.43,223.72 486.38,227.75 482.30,231.50 C478.22,235.25 473.45,238.88 468.00,241.80 C462.55,244.72 455.68,247.30 449.60,249.00 C443.52,250.70 434.52,251.50 431.50,252.00" fill="none" stroke="#1c1c1c" stroke-width="1.1" />
<line x1="397.60" y1="251.80" x2="397.60" y2="261.00" stroke="#1c1c1c" stroke-width="1.1" />
<line x1="431.50" y1="251.80" x2="431.50" y2="261.00" stroke="#1c1c1c" stroke-width="1.1" />
<line x1="397.60" y1="252.00" x2="431.50" y2="252.00" stroke="#1c1c1c" stroke-width="1.0" />
<polygon points="507.60,189.40 511.10,188.50 511.10,190.30" fill="#1c1c1c"/>
<polygon points="521.60,189.40 518.10,190.30 518.10,188.50" fill="#1c1c1c"/>
<text x="506.20" y="197.60" font-size="4.6" text-anchor="start" font-weight="normal" font-style="normal" fill="#333" stroke="#333" stroke-width="0.25" >0.5''- 1''</text>
<path d="M399.7,270.5 L427.7,270.5 L423.4,273.6 L404.2,273.6 Z" fill="none" stroke="#1c1c1c" stroke-width="1.0" />
<line x1="414.20" y1="270.50" x2="414.20" y2="273.60" stroke="#1c1c1c" stroke-width="0.8" />
<rect x="404.3" y="273.6" width="18.9" height="25.8" fill="#1e1e1e" stroke="none"/>
<line x1="405.30" y1="275.20" x2="422.20" y2="275.20" stroke="#444" stroke-width="0.5" />
<line x1="405.30" y1="278.10" x2="422.20" y2="278.10" stroke="#444" stroke-width="0.5" />
<line x1="405.30" y1="281.00" x2="422.20" y2="281.00" stroke="#444" stroke-width="0.5" />
<line x1="405.30" y1="283.90" x2="422.20" y2="283.90" stroke="#444" stroke-width="0.5" />
<line x1="405.30" y1="286.80" x2="422.20" y2="286.80" stroke="#444" stroke-width="0.5" />
<line x1="405.30" y1="289.70" x2="422.20" y2="289.70" stroke="#444" stroke-width="0.5" />
<line x1="405.30" y1="292.60" x2="422.20" y2="292.60" stroke="#444" stroke-width="0.5" />
<line x1="405.30" y1="295.50" x2="422.20" y2="295.50" stroke="#444" stroke-width="0.5" />
<line x1="405.30" y1="298.40" x2="422.20" y2="298.40" stroke="#444" stroke-width="0.5" />
<rect x="406.3" y="299.4" width="15.6" height="18.2" fill="none" stroke="#1c1c1c" stroke-width="1.1"/>
<rect x="404.2" y="317.6" width="19.6" height="9.2" rx="1.5" fill="none" stroke="#1c1c1c" stroke-width="1.2"/>
<line x1="404.20" y1="320.00" x2="423.80" y2="320.00" stroke="#1c1c1c" stroke-width="0.9" />
<line x1="404.80" y1="325.00" x2="423.20" y2="325.00" stroke="#666" stroke-width="0.7" />
<path d="M404.6,328.5 L437.7,328.5 L437.7,362 Q437.7,373.6 426,373.6 L407,373.6 Q404.6,373.6 404.6,371 Z" fill="none" stroke="#1c1c1c" stroke-width="1.2" />
<path d="M407.6,331 L434.4,331 L434.4,361 Q434.4,371 424.5,371 L407.6,371 Z" fill="none" stroke="#1c1c1c" stroke-width="1.0" />
<path d="M437.7,328.8 L448.6,330.2 L448.6,345.4 L437.7,347.6" fill="none" stroke="#1c1c1c" stroke-width="1.0" />
<rect x="448.4" y="327.6" width="3.4" height="20.2" rx="1.6" fill="none" stroke="#1c1c1c" stroke-width="1.1"/>
<line x1="451.80" y1="330.50" x2="583.00" y2="330.50" stroke="#1c1c1c" stroke-width="1.1" />
<line x1="451.80" y1="345.30" x2="583.00" y2="345.30" stroke="#1c1c1c" stroke-width="1.1" />
<path d="M592.6,319.2 Q583,320.5 583,332 L583,344 Q583,355.5 592.6,356.6" fill="none" stroke="#1c1c1c" stroke-width="1.1" />
<path d="M590.5,320.2 Q587.3,323 587.3,332 L587.3,344 Q587.3,353 590.5,355.8" fill="none" stroke="#1c1c1c" stroke-width="0.8" />
<line x1="583.30" y1="323.50" x2="587.30" y2="323.50" stroke="#1c1c1c" stroke-width="0.7" />
<line x1="583.30" y1="325.90" x2="587.30" y2="325.90" stroke="#1c1c1c" stroke-width="0.7" />
<line x1="583.30" y1="328.30" x2="587.30" y2="328.30" stroke="#1c1c1c" stroke-width="0.7" />
<line x1="583.30" y1="330.70" x2="587.30" y2="330.70" stroke="#1c1c1c" stroke-width="0.7" />
<line x1="583.30" y1="333.10" x2="587.30" y2="333.10" stroke="#1c1c1c" stroke-width="0.7" />
<line x1="583.30" y1="335.50" x2="587.30" y2="335.50" stroke="#1c1c1c" stroke-width="0.7" />
<line x1="583.30" y1="337.90" x2="587.30" y2="337.90" stroke="#1c1c1c" stroke-width="0.7" />
<line x1="583.30" y1="340.30" x2="587.30" y2="340.30" stroke="#1c1c1c" stroke-width="0.7" />
<line x1="583.30" y1="342.70" x2="587.30" y2="342.70" stroke="#1c1c1c" stroke-width="0.7" />
<line x1="583.30" y1="345.10" x2="587.30" y2="345.10" stroke="#1c1c1c" stroke-width="0.7" />
<line x1="583.30" y1="347.50" x2="587.30" y2="347.50" stroke="#1c1c1c" stroke-width="0.7" />
<line x1="583.30" y1="349.90" x2="587.30" y2="349.90" stroke="#1c1c1c" stroke-width="0.7" />
<line x1="583.30" y1="352.30" x2="587.30" y2="352.30" stroke="#1c1c1c" stroke-width="0.7" />
<line x1="425.50" y1="93.60" x2="523.70" y2="42.00" stroke="#1c1c1c" stroke-width="1.0" />
<polygon points="512.80,47.70 518.65,42.71 520.23,45.71" fill="#1c1c1c"/>
<polygon points="440.90,85.50 435.05,90.49 433.47,87.49" fill="#1c1c1c"/>
<line x1="512.80" y1="47.70" x2="548.00" y2="121.00" stroke="#1c1c1c" stroke-width="1.0" />
<line x1="440.90" y1="85.50" x2="476.00" y2="157.70" stroke="#1c1c1c" stroke-width="1.0" />
<text x="472.30" y="65.50" font-size="15.6" text-anchor="middle" font-weight="normal" font-style="normal" fill="#111" stroke="#111" stroke-width="0.25" transform="rotate(-27.730320251909696 472.30 65.50)" >7''</text>
<line x1="476.00" y1="157.70" x2="548.00" y2="120.90" stroke="#1c1c1c" stroke-width="2.0" />
<path d="M476,157.7 Q518,160 548,120.9" fill="none" stroke="#1c1c1c" stroke-width="1.0" />
<path d="M523.4,90.3 Q524.4,87.2 526.6,88.0 Q528.4,88.9 527.6,91.6 L514.6,137.2 M523.4,90.3 L511.2,134.8" fill="none" stroke="#1c1c1c" stroke-width="0.9" />
<path d="M504.40,154.40 C505.63,157.00 509.03,164.62 511.80,170.00 C514.57,175.38 517.97,180.57 521.00,186.70 C524.03,192.83 527.92,201.25 530.00,206.80 C532.08,212.35 533.05,215.53 533.50,220.00 C533.95,224.47 533.53,229.10 532.70,233.60 C531.87,238.10 530.32,242.50 528.50,247.00 C526.68,251.50 522.92,258.33 521.80,260.60" fill="none" stroke="#1c1c1c" stroke-width="1.0" />
<path d="M527.00,142.60 C529.20,147.17 536.75,163.35 540.20,170.00 C543.65,176.65 545.33,178.03 547.70,182.50 C550.07,186.97 552.58,191.63 554.40,196.80 C556.22,201.97 557.75,208.47 558.60,213.50 C559.45,218.53 559.63,222.53 559.50,227.00 C559.37,231.47 558.65,236.47 557.80,240.30 C556.95,244.13 555.80,246.62 554.40,250.00 C553.00,253.38 550.23,258.83 549.40,260.60" fill="none" stroke="#1c1c1c" stroke-width="1.0" />
<line x1="547.80" y1="121.00" x2="547.80" y2="260.60" stroke="#1c1c1c" stroke-width="1.0" />
<polygon points="547.80,121.00 549.20,128.00 546.40,128.00" fill="#1c1c1c"/>
<polygon points="547.80,260.60 546.40,253.60 549.20,253.60" fill="#1c1c1c"/>
<text x="545.20" y="199.40" font-size="11.5" text-anchor="start" font-weight="bold" font-style="normal" fill="#111" stroke="#111" stroke-width="0.25" transform="rotate(-90 545.20 199.40)" >11''</text>
<line x1="558.20" y1="240.30" x2="584.60" y2="240.30" stroke="#1c1c1c" stroke-width="1.0" />
<polygon points="558.20,240.30 564.20,238.80 564.20,241.80" fill="#1c1c1c"/>
<polygon points="584.60,240.30 578.60,241.80 578.60,238.80" fill="#1c1c1c"/>
<text x="560.20" y="236.40" font-size="9.2" text-anchor="start" font-weight="normal" font-style="normal" fill="#111" stroke="#111" stroke-width="0.25" >1''</text>
<text x="575.60" y="236.40" font-size="9.2" text-anchor="start" font-weight="normal" font-style="normal" fill="#111" stroke="#111" stroke-width="0.25" >2''</text>
<rect x="568.6" y="231.6" width="3.4" height="2" fill="#222"/>
<line x1="520.60" y1="270.00" x2="520.60" y2="286.80" stroke="#1c1c1c" stroke-width="1.0" />
<line x1="549.00" y1="270.00" x2="549.00" y2="286.80" stroke="#1c1c1c" stroke-width="1.0" />
<line x1="503.30" y1="286.80" x2="535.50" y2="286.80" stroke="#1c1c1c" stroke-width="1.0" />
<line x1="537.80" y1="286.80" x2="564.40" y2="286.80" stroke="#1c1c1c" stroke-width="1.0" />
<polygon points="520.60,286.80 514.60,288.00 514.60,285.60" fill="#1c1c1c"/>
<polygon points="549.00,286.80 555.00,285.60 555.00,288.00" fill="#1c1c1c"/>
<text x="532.40" y="282.60" font-size="10.5" text-anchor="start" font-weight="normal" font-style="normal" fill="#111" stroke="#111" stroke-width="0.25" >2''</text>
<line x1="538.20" y1="291.00" x2="538.20" y2="310.40" stroke="#1c1c1c" stroke-width="1.0" />
<line x1="538.20" y1="310.40" x2="592.40" y2="310.40" stroke="#1c1c1c" stroke-width="1.0" />
<polygon points="538.20,310.40 544.20,309.10 544.20,311.70" fill="#1c1c1c"/>
<polygon points="592.40,310.40 586.40,311.70 586.40,309.10" fill="#1c1c1c"/>
<text x="562.60" y="308.40" font-size="10" text-anchor="start" font-weight="normal" font-style="normal" fill="#111" stroke="#111" stroke-width="0.25" >3''</text>
<line x1="642.00" y1="102.70" x2="721.50" y2="102.70" stroke="#1c1c1c" stroke-width="1.8" />
<path d="M642.3,103 A42.3,42.3 0 0 0 721.2,103" fill="none" stroke="#1c1c1c" stroke-width="1.0" />
<line x1="703.60" y1="86.00" x2="732.60" y2="72.00" stroke="#1c1c1c" stroke-width="1.6" />
<path d="M703.6,86 Q722,85 732.6,72" fill="none" stroke="#1c1c1c" stroke-width="0.9" />
<path d="M723.8,58.6 Q724.6,56.8 725.6,57.4 Q726.4,58 726,59.4 L721,77.2 M723.8,58.6 L719.2,77.8" fill="none" stroke="#1c1c1c" stroke-width="0.8" />
<path d="M716.4,85.3 Q724,98 727.5,112 Q728.5,121 723.3,128.9 L735,130.2 Q739.5,121 738.2,111 Q735,95 725.6,81.8" fill="none" stroke="#1c1c1c" stroke-width="0.9" />
</svg>
</body></html>
